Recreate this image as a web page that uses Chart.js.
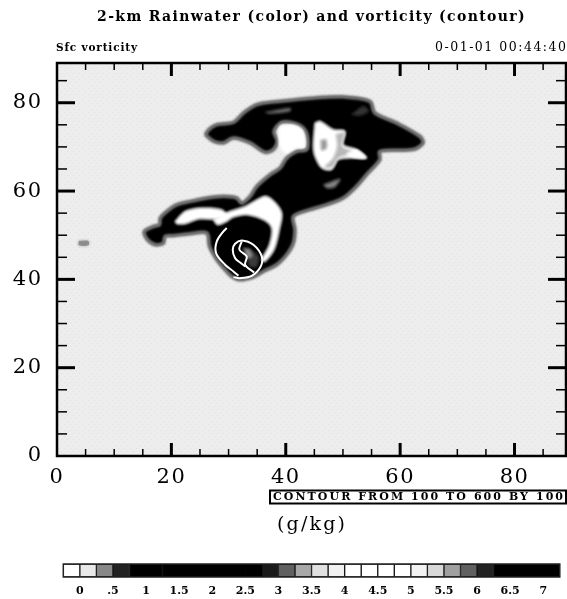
<!DOCTYPE html>
<html>
<head>
<meta charset="utf-8">
<title>2-km Rainwater and vorticity</title>
<script src="https://cdn.jsdelivr.net/npm/chart.js@4"></script>
<style>
  html, body { margin:0; padding:0; background:#fff; }
  #wrap { position:relative; width:567px; height:599px; overflow:hidden; }
  canvas { position:absolute; left:0; filter:blur(0.45px); }
  #field { top:0; }
  #bar { top:550px; }
</style>
</head>
<body>
<div id="wrap">
  <canvas id="field" width="567" height="550"></canvas>
  <canvas id="bar" width="567" height="49"></canvas>
</div>
<script>
// axis ticks
const xTicks = [0,5,10,15,20,25,30,35,40,45,50,55,60,65,70,75,80,85];
const yTicks = [0,5,10,15,20,25,30,35,40,45,50,55,60,65,70,75,80,85];
const labelled = [0,20,40,60,80];

// rainwater regions, in axis units [x, y]
const rainOutline = [[25.9,72.8],[26.66,74.07],[27.94,75.05],[30.85,75.58],[32.6,77.7],[34.92,79.59],[39,80.35],[44.82,81.1],[50.06,81.33],[54.72,80.35],[55.59,77.7],[59.38,75.43],[63.45,72.41],[64.03,70.9],[62.29,69.39],[56.47,69],[56.47,67.12],[54.14,63.72],[52.39,61.07],[50.06,58.43],[47.15,56.91],[44.24,55.78],[41.33,54.27],[41.62,51.24],[41.33,48.22],[40.16,45.58],[38.42,43.31],[36.09,41.79],[34.34,40.51],[32.01,39.9],[30.56,40.66],[29.39,42.17],[27.94,44.44],[26.66,47.46],[26.19,50.49],[23.28,50.34],[20.37,49.88],[18.91,49.73],[18.62,48.22],[17.17,47.84],[15.71,49.13],[15.25,50.87],[16.88,52],[17.92,52.38],[18.04,53.89],[19.2,55.4],[20.95,56.91],[23.28,57.67],[26.19,58.43],[29.1,58.8],[31.43,58.43],[32.3,57.29],[33.76,58.8],[34.92,61.07],[37.25,63.72],[39,65.23],[40.16,67.5],[41.91,69],[43.66,69.39],[43.77,72.41],[43.07,74.3],[41.33,75.43],[39.29,75.58],[37.95,73.54],[38.53,71.28],[37.83,69.39],[36.38,68.78],[33.76,70.9],[30.85,72.03],[29.1,70.9],[27.36,71.28],[25.9,72.8]];
const bay = [[39,74.68],[41.33,74.9],[42.9,73.77],[43.25,70.14],[41.62,69.76],[40.16,68.63],[39,70.14],[38.82,72.41],[39,74.68]];
const upperCore = [[45.11,75.43],[45.99,75.81],[48.31,73.92],[50.35,73.54],[50.06,70.52],[52.39,69.39],[54.14,67.5],[51.81,67.5],[49.19,67.12],[48.02,64.85],[46.28,65.23],[45.11,67.87],[44.82,70.14],[45.11,75.43]];
const upperShade = [[48.78,72.79],[50.18,73.17],[49.83,70.14],[51.69,68.78],[49.19,67.5],[48.08,65.46],[46.86,65.46],[48.31,67.5],[49.01,70.14],[48.78,72.79]];
const upperTip = [[50.64,68.48],[52.39,69.24],[53.9,67.57],[51.81,67.72],[50.64,68.48]];
const upperCentre = [[46.1,71.5],[47.03,71.65],[47.15,69.76],[46.28,69.23],[46.1,71.5]];
const midPatch = [[46.57,61.45],[49.48,62.73],[48.61,60.92],[47.27,60.62],[46.57,61.45]];
const darkWedge = [[51.52,77.32],[53.55,79.21],[54.49,78.08],[52.97,77.1],[51.52,77.32]];
const topSliver = [[36.38,77.85],[40.75,78.83],[40.75,78.08],[37.25,77.55],[36.38,77.85]];
const armBand = [[20.66,53.13],[22.41,55.4],[25.32,56.16],[28.81,55.78],[29.68,54.42],[27.65,53.66],[24.73,53.66],[22.41,52.6],[20.95,52.6],[20.66,53.13]];
const crescent = [[27.36,53.51],[30.27,55.4],[32.89,56.53],[36.38,58.8],[37.95,57.67],[39.29,55.02],[38.88,51.24],[37.95,46.71],[36.38,44.06],[35.8,44.44],[37.14,47.84],[37.54,51.62],[36.09,53.51],[33.18,54.65],[30.85,54.12],[29.68,53.13],[28.05,52.38],[27.36,53.51]];
const eyeDark = [[33.47,47.08],[35.21,45.2],[34.92,42.93],[33.76,42.93],[33.2,45.2],[33.47,47.08]];
const eyeCentre = [[32.6,47.08],[33.76,46.71],[34.22,45.2],[33.29,44.82],[32.6,47.08]];
const westPatch = [[3.8,48.7],[5.5,48.7],[5.5,47.7],[3.8,47.7],[3.8,48.7]];

// vorticity contours
const contourOuter = [[29.68,51.62],[29.1,50.87],[27.94,48.6],[27.82,45.95],[29.39,43.31],[30.85,41.79],[31.72,40.81]];
const contourRing = [[32.89,42.93],[32.3,43.53],[31.14,44.82],[30.73,46.71],[31.14,48.07],[32.3,48.82],[34.34,47.84],[35.8,45.2],[35.62,42.93],[34.05,40.81],[32.01,40.28],[30.85,40.51]];
const contourInner = [[32.3,48.6],[31.9,46.71],[33.18,45.2],[32.89,43.31],[34.46,41.57]];

// colour bar
const barEdges = [-0.25,0,0.25,0.5,0.75,1,1.25,1.5,1.75,2,2.25,2.5,2.75,3,3.25,3.5,3.75,4,4.25,4.5,4.75,5,5.25,5.5,5.75,6,6.25,6.5,6.75,7,7.25];
const barColors = ['#ffffff','#e8e8e8','#888888','#222222','#000000','#000000','#000000','#000000','#000000','#000000','#000000','#000000','#1a1a1a','#606060','#a8a8a8','#e0e0e0','#f2f2f2','#ffffff','#ffffff','#ffffff','#ffffff','#f2f2f2','#d8d8d8','#a0a0a0','#606060','#222222','#000000','#000000','#000000','#000000'];
const barTicks = [0,0.5,1,1.5,2,2.5,3,3.5,4,4.5,5,5.5,6,6.5,7];
const barLabels = ['0','.5','1','1.5','2','2.5','3','3.5','4','4.5','5','5.5','6','6.5','7'];

const SERIF = '"DejaVu Serif", serif';

function area(points, color, border, width) {
  return {
    data: points.map(p => ({ x:p[0], y:p[1] })),
    showLine:true, fill:'shape', backgroundColor:color,
    borderColor:border || color, borderWidth:width === undefined ? 1 : width,
    tension:0.3, pointRadius:0
  };
}

function contour(points) {
  return {
    data: points.map(p => ({ x:p[0], y:p[1] })),
    showLine:true, fill:false, borderColor:'#ffffff', borderWidth:2,
    tension:0.35, pointRadius:0
  };
}

// listed in painting order, chart.js draws the first dataset last
const layers = [
  area(westPatch, '#8a8a8a', '#a0a0a0'),
  area(rainOutline, '#000000', '#6e6e6e', 3.5),
  area(bay, '#ffffff', '#ffffff', 1),
  area(upperCore, '#ffffff', '#ffffff', 1),
  area(upperShade, '#b8b8b8', '#cfcfcf', 1),
  area(upperTip, '#ffffff', '#ffffff', 1),
  area(upperCentre, '#9a9a9a', '#cfcfcf', 1),
  area(midPatch, '#808080', '#444444', 1),
  area(darkWedge, '#333333', '#222222', 1),
  area(topSliver, '#777777', '#333333', 1),
  area(armBand, '#ffffff', '#ffffff', 1),
  area(crescent, '#ffffff', '#ffffff', 1),
  area(eyeDark, '#3a3a3a', '#222222', 1),
  area(eyeCentre, '#8a8a8a', '#555555', 1),
  contour(contourOuter),
  contour(contourRing),
  contour(contourInner)
].reverse();

function fitText(ctx, text, left, right, y, font) {
  ctx.save();
  ctx.font = font;
  ctx.letterSpacing = '0px';
  const w = ctx.measureText(text).width;
  ctx.letterSpacing = ((right - left - w) / (text.length - 1)) + 'px';
  ctx.textAlign = 'left';
  ctx.textBaseline = 'middle';
  ctx.fillStyle = '#000';
  ctx.fillText(text, left, y);
  ctx.restore();
}

function stipple(ctx) {
  const c = document.createElement('canvas');
  c.width = 6; c.height = 6;
  const p = c.getContext('2d');
  p.fillStyle = '#ededed';
  p.fillRect(0, 0, 6, 6);
  p.fillStyle = '#e2e2e2';
  p.fillRect(1, 1, 1, 1);
  p.fillRect(4, 4, 1, 1);
  return ctx.createPattern(c, 'repeat');
}

const fieldDecor = {
  id:'fieldDecor',
  beforeDraw(chart) {
    const { ctx, chartArea:a } = chart;
    ctx.fillStyle = stipple(ctx);
    ctx.fillRect(a.left, a.top, a.right - a.left, a.bottom - a.top);
    ctx.letterSpacing = '1.35px';
  },
  beforeDatasetsDraw(chart) {
    // tick labels have z:1, so they are drawn after this point and the title before it
    chart.ctx.letterSpacing = '1.5px';
  },
  beforeDatasetDraw(chart, args) {
    // soft edges on the rain areas, contours stay sharp
    chart.ctx.filter = args.meta.dataset.options.fill === false ? 'none' : 'blur(1px)';
  },
  afterDatasetsDraw(chart) {
    chart.ctx.filter = 'none';
  },
  afterDraw(chart) {
    const { ctx, chartArea:a, scales } = chart;
    ctx.save();
    ctx.strokeStyle = '#000';
    const line = (x1, y1, x2, y2, w) => {
      ctx.lineWidth = w;
      ctx.beginPath(); ctx.moveTo(x1, y1); ctx.lineTo(x2, y2); ctx.stroke();
    };
    xTicks.forEach(v => {
      if (v === 0) return;
      const big = labelled.includes(v), x = scales.x.getPixelForValue(v), len = big ? 13 : 7, w = big ? 3 : 1.5;
      line(x, a.bottom, x, a.bottom - len, w);
      line(x, a.top, x, a.top + len, w);
    });
    yTicks.forEach(v => {
      if (v === 0) return;
      const big = labelled.includes(v), y = scales.y.getPixelForValue(v), len = big ? 18 : 10, w = big ? 3 : 1.5;
      line(a.left, y, a.left + len, y, w);
      line(a.right, y, a.right - len, y, w);
    });
    ctx.lineWidth = 2.5;
    ctx.strokeRect(a.left, a.top, a.right - a.left, a.bottom - a.top);
    ctx.lineWidth = 2;
    ctx.strokeRect(270, 490.5, 296, 13);
    ctx.restore();
    fitText(ctx, 'Sfc vorticity', 56, 137, 48, 'bold 10.5px ' + SERIF);
    fitText(ctx, '0-01-01 00:44:40', 435, 566, 48, '12.5px ' + SERIF);
    fitText(ctx, 'CONTOUR FROM 100 TO 600 BY 100', 273, 563, 497, 'bold 11px ' + SERIF);
    fitText(ctx, '(g/kg)', 277, 345, 525, '19px ' + SERIF);
  }
};

new Chart(document.getElementById('field').getContext('2d'), {
  type:'scatter',
  data:{ datasets:layers },
  options:{
    responsive:false, animation:false, events:[],
    layout:{ padding:{ left:0, right:1, top:0, bottom:54 } },
    plugins:{
      legend:{ display:false },
      tooltip:{ enabled:false },
      title:{
        display:true, fullSize:false, color:'#000',
        text:'2-km Rainwater (color) and vorticity (contour)',
        font:{ family:SERIF, size:14, weight:'bold', lineHeight:1.2 },
        padding:{ top:9, bottom:37.2 }
      }
    },
    scales:{
      x:{
        type:'linear', min:0, max:89,
        grid:{ display:false }, border:{ display:false },
        afterBuildTicks:s => { s.ticks = xTicks.map(v => ({ value:v })); },
        afterFit:s => { s.height = 40; },
        ticks:{
          autoSkip:false, maxRotation:0, color:'#000', padding:1, z:1,
          font:{ family:SERIF, size:21 },
          callback:v => labelled.includes(v) ? String(v) : ''
        }
      },
      y:{
        type:'linear', min:0, max:89,
        grid:{ display:false }, border:{ display:false },
        afterBuildTicks:s => { s.ticks = yTicks.map(v => ({ value:v })); },
        afterFit:s => { s.width = 57; },
        ticks:{
          autoSkip:false, color:'#000', padding:6.5, z:1,
          font:{ family:SERIF, size:21 },
          callback:v => labelled.includes(v) ? String(v) : ''
        }
      }
    }
  },
  plugins:[fieldDecor]
});

// colour bar: one floating bar per level on a real value axis
new Chart(document.getElementById('bar').getContext('2d'), {
  type:'bar',
  data:{
    labels:['rainwater'],
    datasets:barColors.map((c, i) => ({
      data:[[barEdges[i], barEdges[i + 1]]],
      backgroundColor:c, borderColor:c === '#000000' ? c : '#151515', borderWidth:1, borderSkipped:false,
      barPercentage:1, categoryPercentage:1, stack:'bar', grouped:false
    }))
  },
  options:{
    indexAxis:'y', responsive:false, animation:false, events:[],
    layout:{ padding:{ left:63.3, right:7.2, top:14, bottom:0 } },
    plugins:{ legend:{ display:false }, tooltip:{ enabled:false } },
    scales:{
      y:{ display:false, stacked:false },
      x:{
        type:'linear', min:-0.25, max:7.25, stacked:false,
        grid:{ display:false }, border:{ display:false },
        afterBuildTicks:s => { s.ticks = barTicks.map(v => ({ value:v })); },
        afterFit:s => { s.height = 22; },
        ticks:{
          autoSkip:false, maxRotation:0, color:'#000', padding:0,
          font:{ family:SERIF, size:11, weight:'bold' },
          callback:v => barLabels[barTicks.indexOf(v)]
        }
      }
    }
  },
  plugins:[{
    id:'barFrame',
    afterDraw(chart) {
      const { ctx, chartArea:a } = chart;
      ctx.save();
      ctx.strokeStyle = '#222';
      ctx.lineWidth = 1.5;
      ctx.strokeRect(a.left, a.top, a.right - a.left, a.bottom - a.top);
      ctx.restore();
    }
  }]
});
</script>
</body>
</html>
